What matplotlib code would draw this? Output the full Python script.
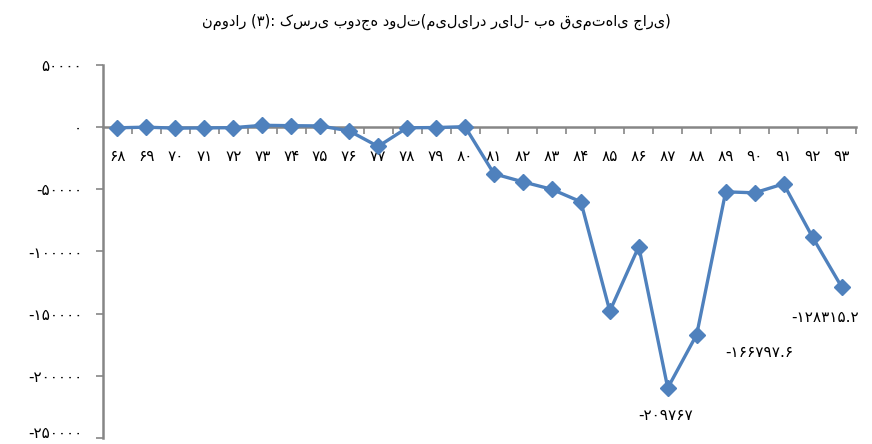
import matplotlib
matplotlib.use("Agg")
import matplotlib.pyplot as plt
from matplotlib.ticker import FixedLocator

# ---------------- data ----------------
years = ['۶۸', '۶۹', '۷۰', '۷۱', '۷۲', '۷۳', '۷۴', '۷۵', '۷۶', '۷۷', '۷۸', '۷۹', '۸۰',
         '۸۱', '۸۲', '۸۳', '۸۴', '۸۵', '۸۶', '۸۷', '۸۸', '۸۹', '۹۰', '۹۱', '۹۲', '۹۳']
deficit = [-500, 0, -800, -600, -400, 1500, 1200, 1000, -3000, -15500, -500, -300, 400,
           -37500, -44000, -50000, -60000, -148000, -96000, -209767, -166797.6,
           -52000, -52800, -45600, -88500, -128315.2]
y_ticks = [50000, 0, -50000, -100000, -150000, -200000, -250000]
y_tick_labels = ['۵۰۰۰۰', '۰', '-۵۰۰۰۰', '-۱۰۰۰۰۰', '-۱۵۰۰۰۰', '-۲۰۰۰۰۰', '-۲۵۰۰۰۰']
label_idx = [19, 20, 25]
label_text = ['-۲۰۹۷۶۷', '-۱۶۶۷۹۷.۶', '-۱۲۸۳۱۵.۲']
title = 'نمودار (۳): کسری بودجه دولت(میلیارد ریال- به قیمت‌های جاری)'

# ---------------- plot ----------------
plt.rcParams['font.family'] = ['DejaVu Sans']
W, H = 872, 444
fig = plt.figure(figsize=(W / 100, H / 100), dpi=100)
ax = fig.add_axes([103 / W, 1 - 438 / H, (856 - 103) / W, (438 - 65) / H])

x = list(range(len(years)))
blue = '#4F81BD'
gray = '#868686'
ax.plot(x, deficit, color=blue, lw=2.4, marker='D', ms=8, mec=blue, mfc=blue,
        zorder=5, clip_on=False)

ax.set_xlim(-0.5, len(years) - 0.5)
ax.set_ylim(-250000, 50000)

for s in ['top', 'right']:
    ax.spines[s].set_visible(False)
ax.spines['left'].set_color(gray)
ax.spines['left'].set_linewidth(1.8)
ax.spines['bottom'].set_position(('data', 0))
ax.spines['bottom'].set_color(gray)
ax.spines['bottom'].set_linewidth(1.8)
ax.spines['bottom'].set_zorder(1)

ax.set_yticks(y_ticks)
ax.set_yticklabels(y_tick_labels, fontsize=11)
ax.tick_params(axis='y', length=5, width=1.2, color=gray, pad=10)
ax.get_yticklabels()[-1].set_va('baseline')

ax.set_xticks(x)
ax.set_xticklabels(years, fontsize=11)
ax.tick_params(axis='x', which='major', length=0, pad=16)
ax.xaxis.set_minor_locator(FixedLocator([i + 0.5 for i in range(len(years))]))
ax.tick_params(axis='x', which='minor', length=5, width=1.2, color=gray, direction='out')

offsets = [(-1.5, -20), (45, -13), (-11.5, -22)]
for idx, txt, off in zip(label_idx, label_text, offsets):
    ax.annotate(txt, (idx, deficit[idx]), xytext=off, textcoords='offset points',
                ha='center', va='center', fontsize=11)

fig.text(0.5, 1 - 22 / H, title, ha='center', va='center', fontsize=10.5)

fig.savefig('out.png', dpi=100)
